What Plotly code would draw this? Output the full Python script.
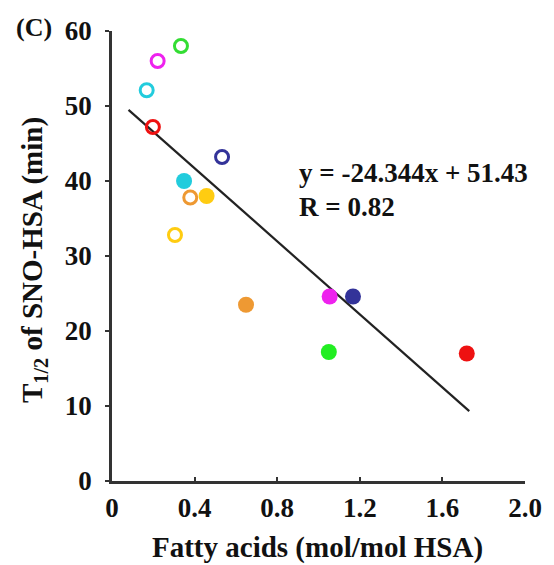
import plotly.graph_objects as go

# Fatty acid content vs. half-life of SNO-HSA
fa_open = [0.334, 0.221, 0.168, 0.198, 0.533, 0.379, 0.305]
t_open = [58.0, 56.0, 52.1, 47.2, 43.2, 37.8, 32.8]
col_open = ["#33dd33", "#ee22ee", "#22ccdd", "#ee1111", "#333399", "#ee9933", "#ffcc11"]

fa_filled = [0.349, 0.458, 0.649, 1.054, 1.167, 1.050, 1.718]
t_filled = [40.0, 38.0, 23.5, 24.6, 24.6, 17.2, 17.0]
col_filled = ["#22ccdd", "#ffcc11", "#ee9933", "#ee22ee", "#333399", "#22ee22", "#ee1111"]

# Linear fit
slope, intercept = -24.344, 51.43
r_value = 0.82
fit_x = [0.08, 1.73]
fit_y = [slope * x + intercept for x in fit_x]

x_ticks = [0, 0.4, 0.8, 1.2, 1.6, 2.0]
x_ticktext = ["0", "0.4", "0.8", "1.2", "1.6", "2.0"]
y_ticks = [0, 10, 20, 30, 40, 50, 60]

FONT = "Liberation Serif"
INK = "#111111"

fig = go.Figure()
fig.add_trace(go.Scatter(x=fit_x, y=fit_y, mode="lines",
                         line=dict(color="#222222", width=2.2), hoverinfo="skip"))
fig.add_trace(go.Scatter(x=fa_open, y=t_open, mode="markers",
                         marker=dict(symbol="circle-open", size=13, color=col_open,
                                     line=dict(width=3, color=col_open))))
fig.add_trace(go.Scatter(x=fa_filled, y=t_filled, mode="markers",
                         marker=dict(symbol="circle", size=16, color=col_filled,
                                     line=dict(width=0))))

fig.update_layout(
    width=554, height=565,
    margin=dict(l=112, r=17, t=31, b=84),
    paper_bgcolor="white", plot_bgcolor="white",
    showlegend=False,
    font=dict(family=FONT, color=INK),
    xaxis=dict(range=[0, 2.0], tickvals=x_ticks, ticktext=x_ticktext,
               showgrid=False, zeroline=False, showline=True,
               linecolor="#333333", linewidth=2.5,
               ticks="inside", ticklen=4, tickwidth=2, tickcolor="#333333",
               ticklabelstandoff=1,
               tickfont=dict(family=FONT, size=27, color=INK, weight="bold")),
    yaxis=dict(range=[0, 60], tickvals=y_ticks,
               showgrid=False, zeroline=False, showline=True,
               linecolor="#333333", linewidth=2.5,
               ticks="outside", ticklen=4, tickwidth=2, tickcolor="#333333",
               ticklabelstandoff=8,
               tickfont=dict(family=FONT, size=27, color=INK, weight="bold")),
)

eq_text = f"y = {slope}x + {intercept}"
r_text = f"R = {r_value}"

fig.add_annotation(text="<b>Fatty acids (mol/mol HSA)</b>", xref="paper", yref="paper",
                   x=0.4965, y=-0.1467, xanchor="center", yanchor="middle",
                   showarrow=False, font=dict(family=FONT, size=29, color=INK))
fig.add_annotation(text="<b>T<sub>1/2</sub> of SNO-HSA (min)</b>", xref="paper", yref="paper",
                   x=-0.19, y=0.49, xanchor="center", yanchor="middle", textangle=-90,
                   showarrow=False, font=dict(family=FONT, size=29, color=INK))
fig.add_annotation(text="<b>(C)</b>", xref="paper", yref="paper",
                   x=-0.188, y=1.0067, xanchor="center", yanchor="middle",
                   showarrow=False, font=dict(family=FONT, size=26, color=INK))
fig.add_annotation(text=f"<b>{eq_text}</b>", xref="x", yref="y",
                   x=0.894, y=41.07, xanchor="left", yanchor="middle",
                   showarrow=False, font=dict(family=FONT, size=27, color=INK))
fig.add_annotation(text=f"<b>{r_text}</b>", xref="x", yref="y",
                   x=0.894, y=36.5, xanchor="left", yanchor="middle",
                   showarrow=False, font=dict(family=FONT, size=27, color=INK))

fig.write_html("out.html")
